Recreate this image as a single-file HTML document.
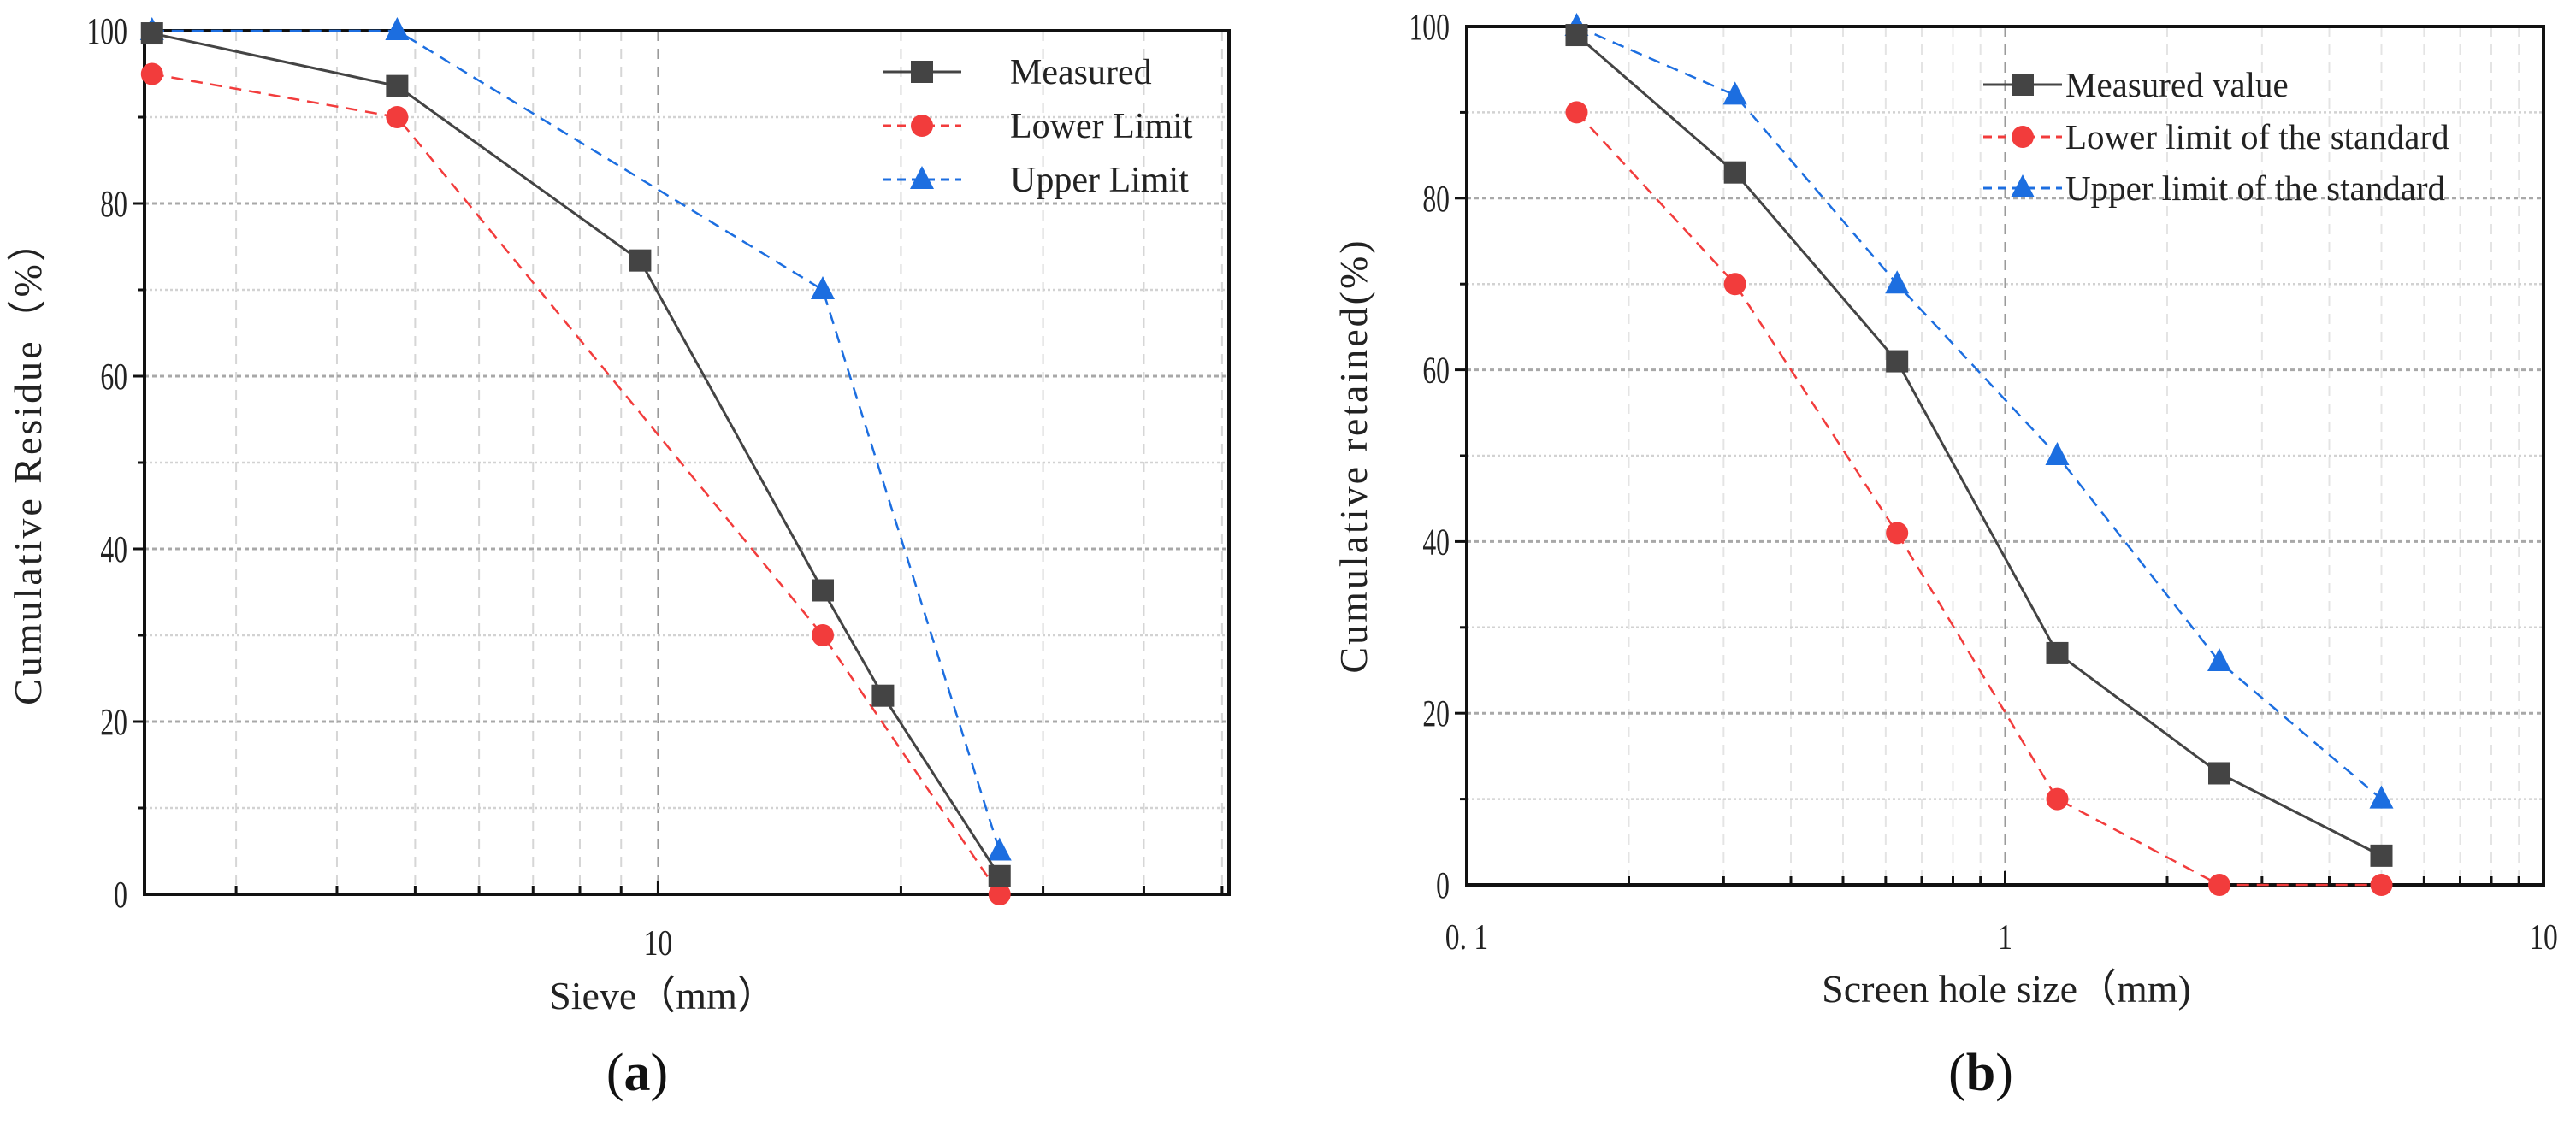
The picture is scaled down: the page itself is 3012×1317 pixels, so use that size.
<!DOCTYPE html>
<html><head><meta charset="utf-8"><style>
html,body{margin:0;padding:0;background:#fff;}
svg{display:block;font-family:"Liberation Serif",serif;}
</style></head><body>
<svg id="fig" width="3012" height="1317" viewBox="0 0 3012 1317" xmlns="http://www.w3.org/2000/svg"></svg>
<script>
// Chart (a) data
const aSieve = [2.36, 4.75, 9.5, 16, 19, 26.5];
const aMeasured = [99.7, 93.6, 73.4, 35.2, 23.0, 2.1];
const aLowerX = [2.36, 4.75, 16, 26.5];
const aLower = [95, 90, 30, 0];
const aUpperX = [2.36, 4.75, 16, 26.5];
const aUpper = [100, 100, 70, 5];
const aYTicks = [0, 20, 40, 60, 80, 100];
const aXTicks = [10];
const aLegend = ["Measured", "Lower Limit", "Upper Limit"];
// Chart (b) data
const bSize = [0.16, 0.315, 0.63, 1.25, 2.5, 5];
const bMeasured = [99, 83, 61, 27, 13, 3.4];
const bLower = [90, 70, 41, 10, 0, 0];
const bUpper = [100, 92, 70, 50, 26, 10];
const bYTicks = [0, 20, 40, 60, 80, 100];
const bXTicks = [0.1, 1, 10];
const bXTickLabels = ["0. 1", "1", "10"];
const bLegend = ["Measured value", "Lower limit of the standard", "Upper limit of the standard"];

const NS = "http://www.w3.org/2000/svg";
const svg = document.getElementById("fig");
function mk(tag, attrs, parent) {
  const e = document.createElementNS(NS, tag);
  for (const k in attrs) e.setAttribute(k, attrs[k]);
  (parent || svg).appendChild(e);
  return e;
}
const COL = {m: "#444444", l: "#f23c3c", u: "#1c6ee0"};

function makeChart(cfg) {
  const g = mk("g", {});
  
  
  const L = cfg.left, R = cfg.right, T = cfg.top, B = cfg.bottom;
  const lx0 = Math.log10(cfg.xmin), lx1 = Math.log10(cfg.xmax);
  const X = v => L + (Math.log10(v) - lx0) / (lx1 - lx0) * (R - L);
  const Y = v => B - v / 100 * (B - T);
  const dec0 = Math.floor(lx0), dec1 = Math.ceil(lx1);
  for (let d = dec0; d <= dec1; d++) {
    for (let k = 1; k <= 9; k++) {
      const v = k * Math.pow(10, d);
      if (v <= cfg.xmin * 1.001 || v >= cfg.xmax * 0.999) continue;
      const x = X(v);
      const gl = mk("line", {x1: x, x2: x, y1: T, y2: B, stroke: k === 1 ? "#9a9a9a" : cfg.minorCol, "stroke-width": 2, "stroke-dasharray": "12,9"}, g);
      
      
      const tk = mk("line", {x1: x, x2: x, y1: B, y2: B - (k === 1 ? 16 : 10), stroke: "#111", "stroke-width": 3}, g);
      
      
    }
  }
  for (let v = 10; v < 100; v += 10) {
    const y = Y(v);
    const major = v % 20 === 0;
    const hl = mk("line", {x1: L, x2: R, y1: y, y2: y, stroke: major ? "#a8a8a8" : "#d2d2d2", "stroke-width": major ? 3 : 2.5, "stroke-dasharray": major ? "5,4" : "3,3"}, g);
    
    
    const tk = mk("line", {x1: L - (major ? 14 : 8), x2: L, y1: y, y2: y, stroke: "#111", "stroke-width": 3}, g);
    
    
  }
  const fr = mk("rect", {x: L, y: T, width: R - L, height: B - T, fill: "none", stroke: "#111", "stroke-width": 4}, g);
  
  
  cfg.yTicks.forEach(v => {
    const t = mk("text", {x: L - 20, y: Y(v) + 15, "text-anchor": "end", "font-size": 44, fill: "#222", transform: `translate(${L - 20},0) scale(0.72,1) translate(${-(L - 20)},0)`}, g);
    t.textContent = v;
    
    
  });
  cfg.xTicks.forEach((v, i) => {
    const t = mk("text", {x: X(v), y: cfg.xLabelY, "text-anchor": "middle", "font-size": 42, fill: "#222", transform: `translate(${X(v)},0) scale(0.8,1) translate(${-X(v)},0)`}, g);
    t.textContent = cfg.xTickLabels ? cfg.xTickLabels[i] : v;
    
    
  });
  const yt = mk("text", {x: 0, y: 0, "text-anchor": "middle", "font-size": 46, fill: "#222", "letter-spacing": 3, transform: `translate(${cfg.yTitleX},${(T + B) / 2 + cfg.yTitleDy}) rotate(-90)`}, g);
  yt.textContent = cfg.yTitle;
  
  
  const xt = mk("text", {x: cfg.xTitleX, y: cfg.xTitleY, "text-anchor": "middle", "font-size": 46, fill: "#222"}, g);
  xt.textContent = cfg.xTitle;
  
  
  const pl = mk("text", {x: cfg.xTitleX - 30, y: 1275, "text-anchor": "middle", "font-size": 62, fill: "#111"}, g);
  
  
  pl.innerHTML = '(<tspan font-weight="bold">' + cfg.panel + '</tspan>)';
  return {g, X, Y};
}

function marker(g, type, x, y, color) {
  let e;
  if (type === "s") e = mk("rect", {x: x - 13, y: y - 13, width: 26, height: 26, fill: color}, g);
  else if (type === "c") e = mk("circle", {cx: x, cy: y, r: 13, fill: color}, g);
  else e = mk("polygon", {points: `${x},${y - 16} ${x + 14},${y + 11} ${x - 14},${y + 11}`, fill: color}, g);
  return e;
}
function series(ch, xs, ys, type, color, dashed, name) {
  const s = mk("g", {}, ch.g);
  
  
  const pts = xs.map((x, i) => ch.X(x) + "," + ch.Y(ys[i])).join(" ");
  mk("polyline", {points: pts, fill: "none", stroke: color, "stroke-width": dashed ? 2.5 : 3, "stroke-dasharray": dashed ? "14,9" : "none"}, s);
  xs.forEach((x, i) => {
    const m = marker(s, type, ch.X(x), ch.Y(ys[i]), color);
    
    
  });
}
function legend(ch, x0, x1, tx, ys, labels, fs) {
  const types = ["s", "c", "t"], cols = [COL.m, COL.l, COL.u];
  labels.forEach((lab, i) => {
    const lg = mk("g", {}, ch.g);
    
    
    mk("line", {x1: x0, x2: x1, y1: ys[i], y2: ys[i], stroke: cols[i], "stroke-width": 3, "stroke-dasharray": i ? "10,7" : "none"}, lg);
    marker(lg, types[i], (x0 + x1) / 2, ys[i], cols[i]);
    const t = mk("text", {x: tx, y: ys[i] + 14, "font-size": fs, fill: "#222"}, lg);
    t.textContent = lab;
  });
}

const A = makeChart({name: "chart-a", left: 169, right: 1437, top: 36, bottom: 1046, xmin: 2.31, xmax: 51, minorCol: "#d6d6d6",
  yTicks: aYTicks, xTicks: aXTicks, xLabelY: 1117, yTitle: "Cumulative Residue（%）", yTitleX: 48, yTitleDy: 0,
  xTitle: "Sieve（mm）", xTitleX: 775, xTitleY: 1180, panel: "a"});
series(A, aLowerX, aLower, "c", COL.l, true, "lower-limit-series");
series(A, aUpperX, aUpper, "t", COL.u, true, "upper-limit-series");
series(A, aSieve, aMeasured, "s", COL.m, false, "measured-series");
legend(A, 1032, 1124, 1181, [84, 147, 210], aLegend, 42);

const Bc = makeChart({name: "chart-b", left: 1715, right: 2974, top: 31, bottom: 1035, xmin: 0.1, xmax: 10, minorCol: "#e4e4e4",
  yTicks: bYTicks, xTicks: bXTicks, xTickLabels: bXTickLabels, xLabelY: 1110, yTitle: "Cumulative retained(%)", yTitleX: 1598, yTitleDy: 0,
  xTitle: "Screen hole size（mm)", xTitleX: 2346, xTitleY: 1172, panel: "b"});
series(Bc, bSize, bLower, "c", COL.l, true, "lower-limit-series");
series(Bc, bSize, bUpper, "t", COL.u, true, "upper-limit-series");
series(Bc, bSize, bMeasured, "s", COL.m, false, "measured-series");
legend(Bc, 2319, 2411, 2415, [99, 160, 220], bLegend, 41);
</script>
</body></html>
